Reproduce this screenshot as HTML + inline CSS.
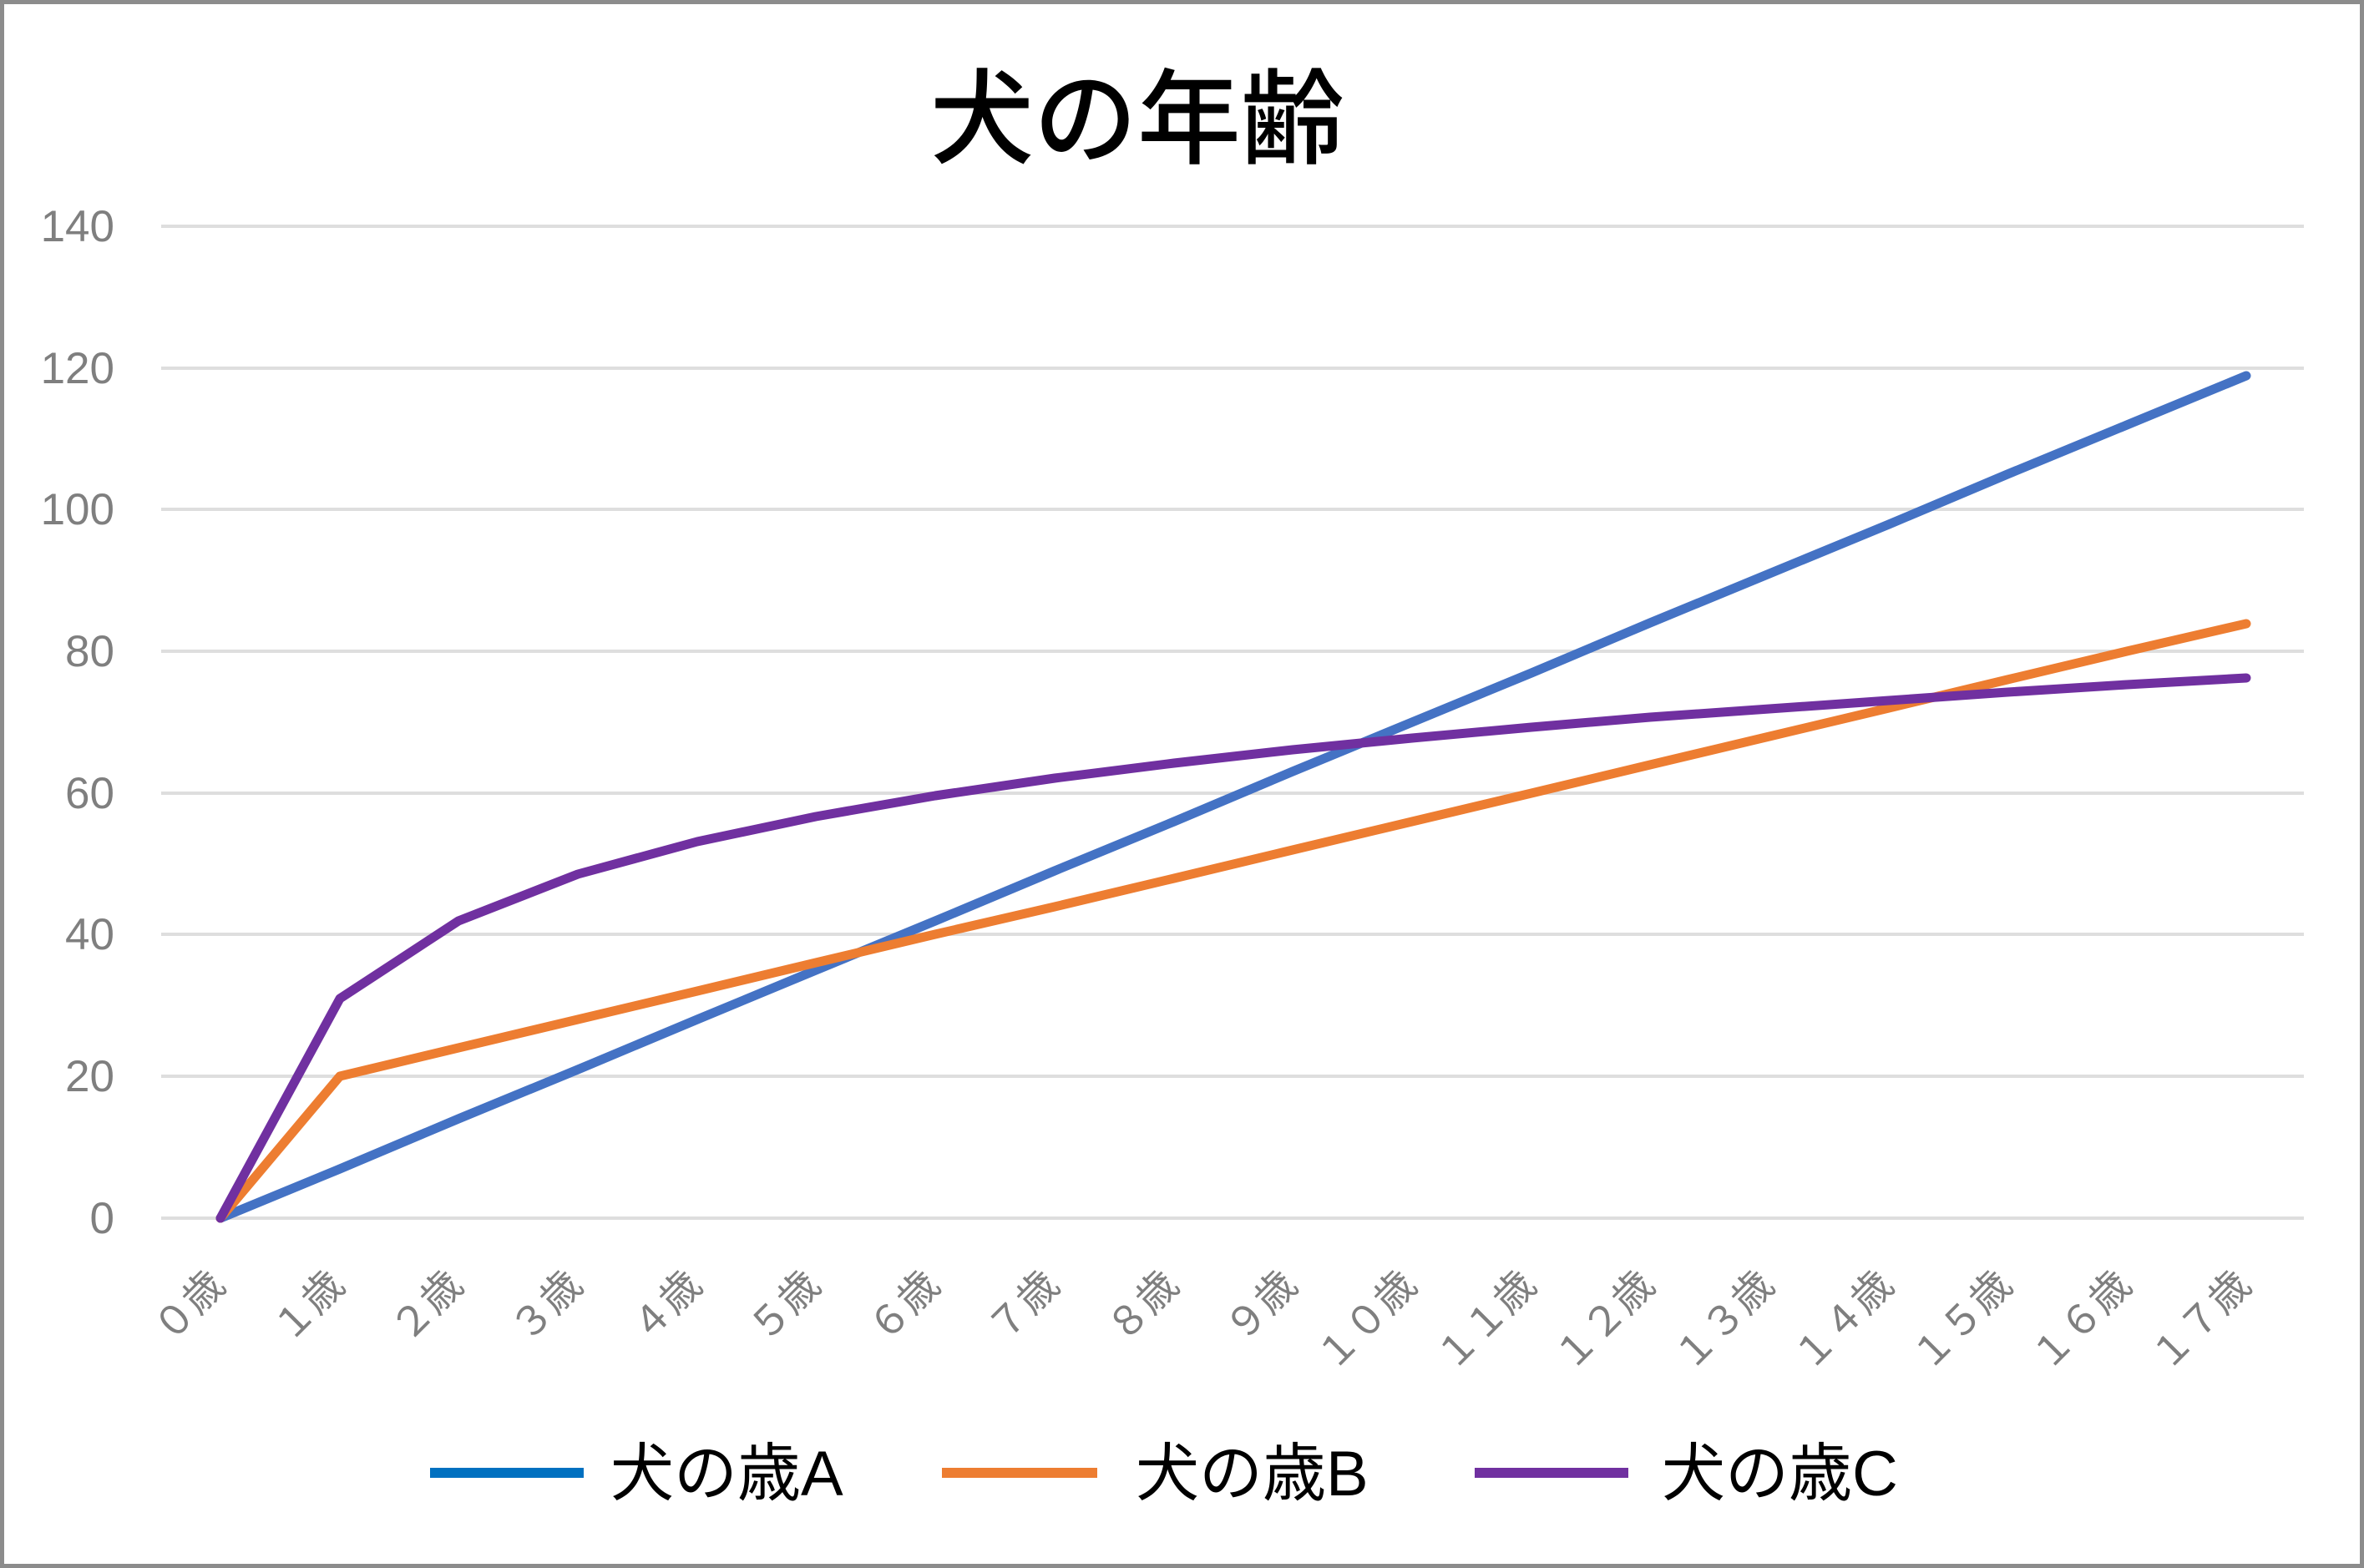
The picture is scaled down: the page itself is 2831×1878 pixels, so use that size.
<!DOCTYPE html>
<html><head><meta charset="utf-8"><style>
html,body{margin:0;padding:0;background:#fff;}
svg{display:block;}
text{font-family:"Liberation Sans","Noto Sans CJK JP",sans-serif;}
</style></head><body>
<svg width="2831" height="1878" viewBox="0 0 2831 1878" xmlns="http://www.w3.org/2000/svg">
<rect x="2.5" y="2.5" width="2826" height="1873" fill="#fff" stroke="#8c8c8c" stroke-width="5"/>
<text x="1362" y="186" font-size="124" text-anchor="middle" fill="#000" font-weight="500">犬の年齢</text>
<g stroke="#dedede" stroke-width="4">
<line x1="193" y1="1459" x2="2759" y2="1459"/>
<line x1="193" y1="1289" x2="2759" y2="1289"/>
<line x1="193" y1="1119" x2="2759" y2="1119"/>
<line x1="193" y1="950" x2="2759" y2="950"/>
<line x1="193" y1="780" x2="2759" y2="780"/>
<line x1="193" y1="610" x2="2759" y2="610"/>
<line x1="193" y1="441" x2="2759" y2="441"/>
<line x1="193" y1="271" x2="2759" y2="271"/>
</g>
<g font-size="53" fill="#7f7f7f" text-anchor="end">
<text x="137" y="1477">0</text>
<text x="137" y="1307">20</text>
<text x="137" y="1137">40</text>
<text x="137" y="968">60</text>
<text x="137" y="798">80</text>
<text x="137" y="628">100</text>
<text x="137" y="459">120</text>
<text x="137" y="289">140</text>
</g>
<g font-size="48" fill="#7f7f7f" text-anchor="end">
<text transform="translate(272,1542) rotate(-45)">０歳</text>
<text transform="translate(415,1542) rotate(-45)">１歳</text>
<text transform="translate(557,1542) rotate(-45)">２歳</text>
<text transform="translate(700,1542) rotate(-45)">３歳</text>
<text transform="translate(843,1542) rotate(-45)">４歳</text>
<text transform="translate(985,1542) rotate(-45)">５歳</text>
<text transform="translate(1128,1542) rotate(-45)">６歳</text>
<text transform="translate(1271,1542) rotate(-45)">７歳</text>
<text transform="translate(1414,1542) rotate(-45)">８歳</text>
<text transform="translate(1556,1542) rotate(-45)">９歳</text>
<text transform="translate(1699,1542) rotate(-45)">１０歳</text>
<text transform="translate(1842,1542) rotate(-45)">１１歳</text>
<text transform="translate(1984,1542) rotate(-45)">１２歳</text>
<text transform="translate(2127,1542) rotate(-45)">１３歳</text>
<text transform="translate(2270,1542) rotate(-45)">１４歳</text>
<text transform="translate(2412,1542) rotate(-45)">１５歳</text>
<text transform="translate(2555,1542) rotate(-45)">１６歳</text>
<text transform="translate(2698,1542) rotate(-45)">１７歳</text>
</g>
<g fill="none" stroke-width="11" stroke-linejoin="round" stroke-linecap="round">
<polyline stroke="#4472C4" points="264,1459 407,1400 549,1340 692,1281 835,1221 977,1162 1120,1103 1263,1043 1406,984 1548,924 1691,865 1834,806 1976,746 2119,687 2262,628 2404,568 2547,509 2690,450"/>
<polyline stroke="#ED7D31" points="264,1459 407,1289 549,1255 692,1221 835,1187 977,1153 1120,1119 1263,1086 1406,1052 1548,1018 1691,984 1834,950 1976,916 2119,882 2262,848 2404,814 2547,780 2690,747"/>
<polyline stroke="#7030A0" points="264,1459 407,1196 549,1103 692,1047 835,1008 977,978 1120,953 1263,932 1406,914 1548,898 1691,884 1834,871 1976,859 2119,849 2262,839 2404,829 2547,820 2690,812"/>
</g>
<g stroke-width="12">
<line x1="515" y1="1764" x2="699" y2="1764" stroke="#0070C0"/>
<line x1="1128" y1="1764" x2="1314" y2="1764" stroke="#ED7D31"/>
<line x1="1766" y1="1764" x2="1950" y2="1764" stroke="#7030A0"/>
</g>
<g font-size="76" fill="#000">
<text x="731" y="1791">犬の歳A</text>
<text x="1360" y="1791">犬の歳B</text>
<text x="1990" y="1791">犬の歳C</text>
</g>
</svg>
</body></html>
